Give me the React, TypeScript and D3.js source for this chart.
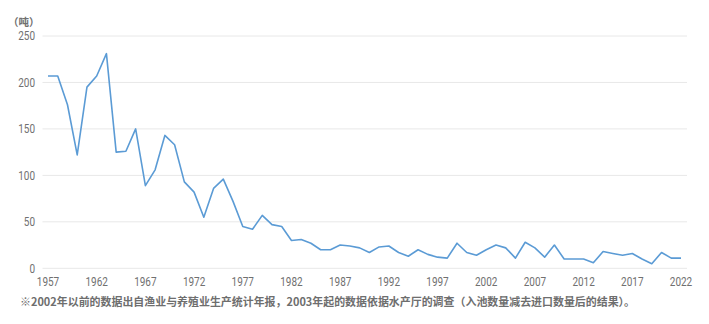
import React from "react";
import * as d3 from "d3";

const years: number[] = d3.range(1957, 2023);
const values: number[] = [
  207, 207, 176, 122, 195, 207, 231, 125, 126, 150,
  89, 106, 143, 133, 93, 82, 55, 86, 96, 72,
  45, 42, 57, 47, 45, 30, 31, 27, 20, 20,
  25, 24, 22, 17, 23, 24, 17, 13, 20, 15,
  12, 11, 27, 17, 14, 20, 25, 22, 11, 28,
  22, 12, 25, 10, 10, 10, 6, 18, 16, 14,
  16, 10, 5, 17, 11, 11,
];
const yTicks: number[] = [0, 50, 100, 150, 200, 250];
const xTicks: number[] = [1957, 1962, 1967, 1972, 1977, 1982, 1987, 1992, 1997, 2002, 2007, 2012, 2017, 2022];
const unitLabel = "（吨）";
const footnote = "※2002年以前的数据出自渔业与养殖业生产统计年报，2003年起的数据依据水产厅的调查（入池数量减去进口数量后的结果）。";

const W = 709;
const H = 324;

export default function App() {
  const x = d3.scaleLinear().domain([1957, 2022]).range([48, 681]);
  const y = d3.scaleLinear().domain([0, 250]).range([268.3, 36]);
  const line = d3
    .line<number>()
    .x((_, i) => x(years[i]))
    .y((d) => y(d));
  const tickFont = "'Roboto', 'Liberation Sans', sans-serif";
  const digitW = 5.6;
  return (
    <svg
      width={W}
      height={H}
      style={{ position: "absolute", left: 0, top: 0, background: "#fff" }}
    >
      {yTicks.map((t) => (
        <g key={t}>
          <line x1={42.5} x2={687} y1={y(t)} y2={y(t)} stroke="#e8e8e8" strokeWidth={1} />
          <text
            x={35}
            y={y(t)}
            dy="0.35em"
            textAnchor="end"
            fontFamily={tickFont}
            fontSize={12.5}
            fill="#707070"
            textLength={String(t).length * digitW}
            lengthAdjust="spacingAndGlyphs"
          >
            {t}
          </text>
        </g>
      ))}
      {xTicks.map((t) => (
        <text
          key={t}
          x={x(t)}
          y={285.5}
          textAnchor="middle"
          fontFamily={tickFont}
          fontSize={12.5}
          fill="#707070"
          textLength={String(t).length * digitW}
          lengthAdjust="spacingAndGlyphs"
        >
          {t}
        </text>
      ))}
      <text
        x={8}
        y={26}
        fontFamily="'Noto Sans CJK SC', sans-serif"
        fontSize={10.5}
        fontWeight="bold"
        fill="#707070"
      >
        {unitLabel}
      </text>
      <path d={line(values) || ""} fill="none" stroke="#5b9bd5" strokeWidth={1.6} strokeLinejoin="round" />
      <text
        x={20}
        y={306}
        fontFamily="'Noto Sans CJK SC', sans-serif"
        fontSize={11}
        fontWeight="bold"
        fill="#6e6e6e"
        textLength={615}
        lengthAdjust="spacingAndGlyphs"
      >
        {footnote}
      </text>
    </svg>
  );
}
